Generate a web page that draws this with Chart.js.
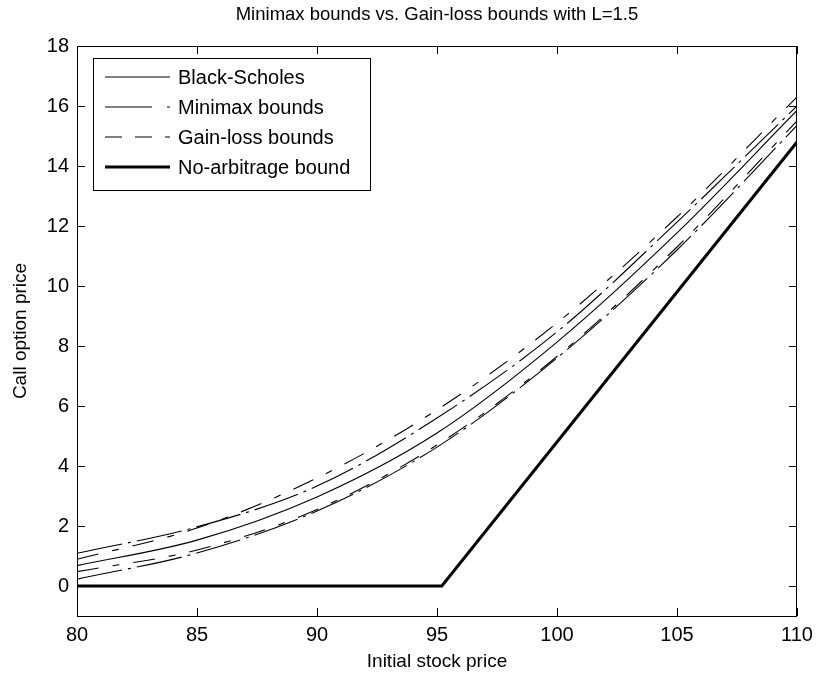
<!DOCTYPE html>
<html>
<head>
<meta charset="utf-8">
<title>Minimax bounds vs. Gain-loss bounds</title>
<script src="https://cdn.jsdelivr.net/npm/chart.js@4.4.1/dist/chart.umd.min.js"></script>
<style>
  html, body { margin: 0; padding: 0; background: #fff; }
  #wrap { width: 822px; height: 679px; }
</style>
</head>
<body>
<div id="wrap"><canvas id="optChart" width="822" height="679"></canvas></div>
<script>
// values
const stockPrices   = [80, 85, 90, 95, 100, 105, 110];
const blackScholes  = [0.68, 1.53, 2.97, 5.10, 8.13, 11.77, 15.85];
const minimaxUpper  = [1.09, 1.97, 3.33, 5.60, 8.47, 12.13, 16.00];
const minimaxLower  = [0.23, 1.10, 2.50, 4.63, 7.60, 11.20, 15.35];
const gainLossUpper = [0.89, 1.93, 3.60, 5.87, 8.77, 12.30, 16.30];
const gainLossLower = [0.48, 1.20, 2.55, 4.70, 7.65, 11.30, 15.50];
const noArbPrices   = [80, 95.2, 110];
const noArbBound    = [0, 0, 14.8];

const xTicks = [80, 85, 90, 95, 100, 105, 110];
const yTicks = [0, 2, 4, 6, 8, 10, 12, 14, 16, 18];

const FONT = '"Liberation Sans", Arial, Helvetica, sans-serif';
const DASH_MINIMAX = [46, 6, 3, 6];
const DASH_GAINLOSS = [22, 14, 7, 14];

function pts(xs, ys) {
    return xs.map((v, i) => ({ x: v, y: ys[i] }));
}

function thin(label, xs, ys, dash, hidden) {
    return {
        label: label,
        data: pts(xs, ys),
        borderColor: '#000',
        borderWidth: 1.1,
        borderDash: dash,
        pointRadius: 0,
        fill: false,
        cubicInterpolationMode: 'monotone',
        inLegend: !hidden
    };
}

// MATLAB-like box, inward ticks, labels, title and legend
const matlabFrame = {
    id: 'matlabFrame',
    afterDatasetsDraw(chart) {
        const { ctx, chartArea: a, scales: { x, y } } = chart;
        ctx.save();
        ctx.strokeStyle = '#000';
        ctx.lineWidth = 1;
        ctx.setLineDash([]);

        // ticks
        ctx.beginPath();
        xTicks.forEach(v => {
            const px = Math.round(x.getPixelForValue(v)) + 0.5;
            ctx.moveTo(px, a.bottom); ctx.lineTo(px, a.bottom - 8);
            ctx.moveTo(px, a.top); ctx.lineTo(px, a.top + 8);
        });
        yTicks.forEach(v => {
            const py = Math.round(y.getPixelForValue(v)) + 0.5;
            ctx.moveTo(a.left, py); ctx.lineTo(a.left + 8, py);
            ctx.moveTo(a.right, py); ctx.lineTo(a.right - 8, py);
        });
        ctx.stroke();
        ctx.strokeRect(Math.round(a.left) + 0.5, Math.round(a.top) + 0.5,
                       Math.round(a.width) - 1, Math.round(a.height));

        // tick labels
        ctx.fillStyle = '#000';
        ctx.font = '20px ' + FONT;
        ctx.textAlign = 'center';
        ctx.textBaseline = 'top';
        xTicks.forEach(v => ctx.fillText(String(v), x.getPixelForValue(v), a.bottom + 9));
        ctx.textAlign = 'right';
        ctx.textBaseline = 'middle';
        yTicks.forEach(v => ctx.fillText(String(v), a.left - 8, y.getPixelForValue(v)));

        // axis titles
        ctx.font = '19px ' + FONT;
        ctx.textAlign = 'center';
        ctx.textBaseline = 'middle';
        ctx.fillText('Initial stock price', (a.left + a.right) / 2, 662);
        ctx.save();
        ctx.translate(21, (a.top + a.bottom) / 2);
        ctx.rotate(-Math.PI / 2);
        ctx.fillText('Call option price', 0, 0);
        ctx.restore();

        // title
        ctx.font = '18.5px ' + FONT;
        ctx.fillText('Minimax bounds vs. Gain-loss bounds with L=1.5', (a.left + a.right) / 2, 15);

        // legend
        const box = { l: 93, t: 58, w: 277, h: 132 };
        ctx.fillStyle = '#fff';
        ctx.fillRect(box.l, box.t, box.w, box.h);
        ctx.strokeRect(box.l + 0.5, box.t + 0.5, box.w, box.h);
        const items = chart.data.datasets.filter(d => d.inLegend);
        ctx.font = '20px ' + FONT;
        ctx.textAlign = 'left';
        items.forEach((d, i) => {
            const ly = 77 + i * 30;
            ctx.beginPath();
            ctx.lineWidth = d.borderWidth;
            ctx.setLineDash(d.legendDash || d.borderDash || []);
            ctx.moveTo(105, ly); ctx.lineTo(170, ly);
            ctx.stroke();
            ctx.setLineDash([]);
            ctx.fillStyle = '#000';
            ctx.fillText(d.label, 178, ly + 1);
        });
        ctx.restore();
    }
};

const bsSet = thin('Black-Scholes', stockPrices, blackScholes, []);
const mmUp = thin('Minimax bounds', stockPrices, minimaxUpper, DASH_MINIMAX);
mmUp.legendDash = [47, 15, 3, 15];
const glUp = thin('Gain-loss bounds', stockPrices, gainLossUpper, DASH_GAINLOSS);
glUp.legendDash = [17, 13];

const chart = new Chart(document.getElementById('optChart').getContext('2d'), {
    type: 'line',
    data: {
        datasets: [
            bsSet,
            mmUp,
            glUp,
            {
                label: 'No-arbitrage bound',
                data: pts(noArbPrices, noArbBound),
                borderColor: '#000',
                borderWidth: 3,
                borderDash: [],
                pointRadius: 0,
                fill: false,
                inLegend: true
            },
            thin('Minimax bounds', stockPrices, minimaxLower, DASH_MINIMAX, true),
            thin('Gain-loss bounds', stockPrices, gainLossLower, DASH_GAINLOSS, true)
        ]
    },
    options: {
        responsive: false,
        animation: false,
        layout: { padding: { left: 77, top: 46, right: 25, bottom: 63 } },
        scales: {
            x: { type: 'linear', min: 80, max: 110, display: false },
            y: { type: 'linear', min: -1, max: 18, display: false }
        },
        plugins: {
            legend: { display: false },
            tooltip: { enabled: false }
        }
    },
    plugins: [matlabFrame]
});
</script>
</body>
</html>
